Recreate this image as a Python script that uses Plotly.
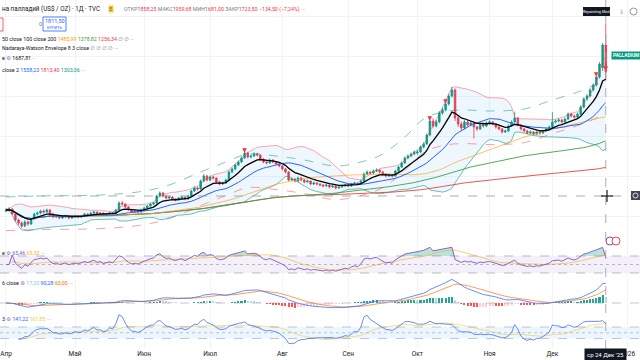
import numpy as np
import pandas as pd
import plotly.graph_objects as go

# ---------------- data ----------------
dates = pd.bdate_range("2025-04-01", "2025-12-24")

opens = [1028,1033,1038,1013,983,968,953,973,963,988,1013,1018,1028,1023,1033,1013,998,1003,993,998,1003,993,
         998,1003,998,1003,1013,1008,1018,1023,1013,1018,1008,1013,1018,1013,1033,1068,1063,1048,1033,1023,1028,1023,
         1033,1043,1053,1063,1068,1103,1118,1103,1093,1098,1088,1083,1093,1098,1088,1103,1128,1143,1138,1178,1203,
         1183,1198,1193,1173,1163,1168,1183,1223,1238,1258,1273,1293,1318,1298,1303,1313,1308,1288,1273,1268,1283,1273,1263,
         1253,1238,1223,1183,1188,1178,1193,1183,1173,1178,1163,1168,1163,1158,1153,1158,1148,1153,1143,1148,1153,
         1158,1153,1163,1168,1163,1178,1213,1223,1218,1228,1233,1223,1213,1203,1208,1203,1228,1248,1268,1293,1303,1313,
         1318,1323,1348,1363,1408,1478,1453,1473,1518,1533,1563,1603,1633,1493,1463,1443,1473,1458,1468,1448,1438,1463,1453,
         1468,1473,1463,1448,1438,1423,1428,1453,1473,1493,1458,1438,1428,1418,1423,1413,1423,1418,1428,1438,
         1448,1473,1478,1483,1473,1488,1513,1503,1498,1513,1548,1588,1603,1633,1658,1698,1745,1858.25]
highs = [1041,1047,1042,1018,990,975,982,980,994,1019,1025,1034,1036,1040,1038,1019,1010,1008,1004,1009,1007,1003,
         1009,1007,1008,1019,1017,1024,1029,1027,1023,1021,1018,1023,1022,1039,1076,1079,1067,1053,1039,1034,1032,1039,
         1049,1058,1068,1074,1109,1126,1123,1108,1105,1102,1093,1098,1104,1101,1109,1134,1151,1149,1186,1214,1209,
         1206,1204,1196,1179,1175,1189,1231,1245,1265,1281,1301,1338,1324,1311,1321,1319,1312,1293,1279,1290,1287,1278,1268,
         1258,1243,1227,1196,1193,1199,1198,1187,1185,1181,1174,1172,1167,1162,1164,1161,1159,1157,1154,1159,1164,
         1162,1169,1174,1172,1185,1221,1231,1227,1236,1241,1237,1227,1217,1214,1212,1234,1255,1276,1301,1311,1321,1331,
         1334,1356,1372,1416,1489,1492,1483,1528,1546,1572,1614,1648,1641,1506,1475,1483,1481,1476,1474,1453,1471,1469,1476,
         1482,1478,1468,1453,1443,1436,1461,1481,1525,1498,1463,1443,1434,1431,1427,1429,1427,1434,1445,1455,
         1522,1486,1491,1488,1494,1521,1519,1510,1520,1557,1597,1612,1642,1667,1706,1772,1868,1959.68]
lows = [1022,1026,1008,976,958,942,948,955,958,984,1006,1012,1015,1018,1007,992,993,987,988,992,986,988,
        993,992,994,999,1002,1004,1013,1008,1009,1003,1004,1009,1008,1010,1030,1057,1042,1028,1018,1019,1017,1019,
        1029,1038,1049,1057,1064,1097,1097,1086,1088,1082,1076,1079,1089,1082,1084,1099,1123,1130,1134,1172,1176,
        1178,1186,1166,1156,1158,1164,1179,1217,1232,1252,1268,1289,1291,1292,1298,1301,1282,1266,1261,1264,1267,1257,1246,
        1231,1216,1176,1177,1171,1174,1177,1166,1169,1157,1158,1157,1152,1147,1149,1141,1144,1136,1139,1144,1149,
        1147,1149,1158,1157,1159,1174,1208,1211,1214,1223,1216,1206,1196,1198,1196,1199,1223,1243,1263,1287,1297,1306,
        1310,1318,1341,1358,1402,1441,1446,1467,1510,1526,1556,1596,1478,1448,1431,1436,1450,1452,1390,1429,1433,1445,1448,
        1462,1456,1440,1431,1415,1418,1424,1448,1468,1451,1431,1421,1411,1413,1406,1408,1410,1413,1423,1433,
        1443,1466,1471,1466,1468,1483,1496,1491,1493,1508,1542,1580,1596,1625,1650,1690,1728,1681.00]
closes = [1033,1038,1013,983,968,953,973,963,988,1013,1018,1028,1023,1033,1013,998,1003,993,998,1003,993,998,
          1003,998,1003,1013,1008,1018,1023,1013,1018,1008,1013,1018,1013,1033,1068,1063,1048,1033,1023,1028,1023,1033,
          1043,1053,1063,1068,1103,1118,1103,1093,1098,1088,1083,1093,1098,1088,1103,1128,1143,1138,1178,1203,1183,
          1198,1193,1173,1163,1168,1183,1223,1238,1258,1273,1293,1318,1298,1303,1313,1308,1288,1273,1268,1283,1273,1263,1253,
          1238,1223,1183,1188,1178,1193,1183,1173,1178,1163,1168,1163,1158,1153,1158,1148,1153,1143,1148,1153,1158,
          1153,1163,1168,1163,1178,1213,1223,1218,1228,1233,1223,1213,1203,1208,1203,1228,1248,1268,1293,1303,1313,1323,
          1323,1348,1363,1408,1478,1453,1473,1518,1533,1563,1603,1633,1493,1463,1443,1473,1458,1468,1448,1438,1463,1453,1468,
          1473,1463,1448,1438,1423,1428,1453,1473,1493,1458,1438,1428,1418,1423,1413,1423,1418,1428,1438,1448,
          1473,1478,1483,1473,1488,1513,1503,1498,1513,1548,1588,1603,1633,1658,1698,1763,1858,1723.50]

# Nadaraya-Watson envelope (dashed)
nw_dates = ["2025-04-01","2025-04-15","2025-05-13","2025-05-29","2025-06-11","2025-06-26","2025-07-08",
            "2025-07-17","2025-07-30","2025-08-12","2025-08-26","2025-09-05","2025-09-16","2025-09-25",
            "2025-10-03","2025-10-13","2025-10-21","2025-11-04","2025-11-18","2025-12-01","2025-12-12","2025-12-24"]
nw_upper = [1098,1103,1108,1123,1153,1223,1273,1313,1303,1283,1253,1273,1313,1398,1488,1523,1533,1528,1538,1583,1628,1683]
nw_lower = [930,935,940,955,985,1055,1105,1145,1135,1115,1085,1105,1145,1230,1320,1355,1365,1360,1370,1415,1460,1515]

signal_dates = ["2025-07-16", "2025-10-07", "2025-10-14", "2025-12-19", "2025-12-24"]

month_labels = ["Апр", "Май", "Июн", "Июл", "Авг", "Сен", "Окт", "Ноя", "Дек", "2026"]
month_starts = ["2025-04-01", "2025-05-01", "2025-06-02", "2025-07-01", "2025-08-01", "2025-09-01",
                "2025-10-01", "2025-11-03", "2025-12-01", "2026-01-02"]

title_text = "на палладий (US$ / OZ) · 1Д · TVC"
ohlc_names = ["ОТКР", "МАКС", "МИН", "ЗАКР"]
ohlc_values = ["1858,25", "1959,68", "1681,00", "1723,50"]
change_text = "−134,50 (−7,24%)"
ma_legend_values = ["1485,99", "1378,82", "1256,34"]
ema_legend_value = "1687,81"
bb_legend_values = ["1558,23", "1813,40", "1303,06"]
rsi_legend_values = ["65,46", "65,30"]
macd_legend_values = ["17,20", "90,28", "63,00"]
cci_legend_values = ["141,22", "161,85"]
buy_price = "1811,50"
crosshair_label = "ср 24 Дек '25"

assert len(opens) == len(highs) == len(lows) == len(closes) == len(dates)

# ---------------- indicators ----------------
n = len(dates)
xi = np.arange(n)
o = pd.Series(opens, dtype=float)
h = pd.Series(highs, dtype=float)
l = pd.Series(lows, dtype=float)
c = pd.Series(closes, dtype=float)

ema9 = c.ewm(span=9, adjust=False).mean()
bb_mid = c.rolling(20, min_periods=1).mean()
bb_sd = c.rolling(20, min_periods=2).std(ddof=0).bfill()
bb_up = bb_mid + 2 * bb_sd
bb_lo = bb_mid - 2 * bb_sd
sma50 = c.rolling(50, min_periods=1).mean()
sma100 = c.rolling(100, min_periods=1).mean()
sma200 = c.rolling(200, min_periods=1).mean()

d = c.diff()
gain = d.clip(lower=0).ewm(alpha=1 / 14, adjust=False).mean()
loss = (-d.clip(upper=0)).ewm(alpha=1 / 14, adjust=False).mean()
rsi = 100 - 100 / (1 + gain / loss.replace(0, np.nan))
rsi = rsi.fillna(50)
rsi_ma = rsi.rolling(14, min_periods=1).mean()

macd = c.ewm(span=12, adjust=False).mean() - c.ewm(span=26, adjust=False).mean()
signal = macd.ewm(span=9, adjust=False).mean()
hist = macd - signal
hist_prev = hist.shift(1).fillna(0)
hist_colors = [("#26A69A" if hv > hp else "#B2DFDB") if hv >= 0 else ("#FF5252" if hv < hp else "#FFCDD2")
               for hv, hp in zip(hist, hist_prev)]

tp = (h + l + c) / 3
tp_ma = tp.rolling(20, min_periods=5).mean()
tp_md = tp.rolling(20, min_periods=5).apply(lambda a: np.mean(np.abs(a - a.mean())), raw=True)
cci = (tp - tp_ma) / (0.015 * tp_md)
cci_ma = cci.rolling(14, min_periods=1).mean()

nw_x = dates.get_indexer(pd.to_datetime(nw_dates))
sig_x = dates.get_indexer(pd.to_datetime(signal_dates))
sig_y = c.iloc[sig_x].values

axis_days = pd.bdate_range("2025-04-01", "2026-01-09")
tick_x = axis_days.get_indexer(pd.to_datetime(month_starts))
last_x = n - 1

# ---------------- styling ----------------
W, H = 640, 360
FONT = "Roboto, 'Noto Sans', 'DejaVu Sans', sans-serif"
TXT = "#131722"
GREY = "#787B86"
UP = "#089981"
DN = "#F23645"
BLUE = "#2962FF"
GRID = "#F0F3FA"


def fx(px):
    return px / W


def fy(py):
    return 1 - py / H


def span(t, col):
    return f"<span style='color:{col}'>{t}</span>"


fig = go.Figure()

# --- main pane ---
fig.add_trace(go.Scatter(x=xi, y=bb_lo, mode="lines", line=dict(color="rgba(8,153,129,0.75)", width=0.8),
                         hoverinfo="skip"))
fig.add_trace(go.Scatter(x=xi, y=bb_up, mode="lines", line=dict(color="rgba(242,54,69,0.55)", width=0.8),
                         fill="tonexty", fillcolor="rgba(33,150,243,0.08)", hoverinfo="skip"))
fig.add_trace(go.Scatter(x=nw_x, y=nw_upper, mode="lines", line=dict(color="rgba(8,153,129,0.65)", width=0.8, dash="dash",
                         shape="spline"), hoverinfo="skip"))
fig.add_trace(go.Scatter(x=nw_x, y=nw_lower, mode="lines", line=dict(color="rgba(242,54,69,0.6)", width=0.8, dash="dash",
                         shape="spline"), hoverinfo="skip"))
fig.add_trace(go.Scatter(x=xi, y=sma200, mode="lines", line=dict(color="rgba(229,57,53,0.85)", width=1), hoverinfo="skip"))
fig.add_trace(go.Scatter(x=xi, y=sma100, mode="lines", line=dict(color="rgba(67,160,71,0.9)", width=1), hoverinfo="skip"))
fig.add_trace(go.Scatter(x=xi, y=sma50, mode="lines", line=dict(color="rgba(255,152,0,0.6)", width=1), hoverinfo="skip"))
fig.add_trace(go.Scatter(x=xi, y=bb_mid, mode="lines", line=dict(color=BLUE, width=1), hoverinfo="skip"))
fig.add_trace(go.Candlestick(x=xi, open=o, high=h, low=l, close=c,
                             increasing=dict(line=dict(color=UP, width=0.8), fillcolor=UP),
                             decreasing=dict(line=dict(color=DN, width=0.8), fillcolor=DN),
                             whiskerwidth=0, hoverinfo="skip"))
fig.add_trace(go.Scatter(x=xi, y=ema9, mode="lines", line=dict(color="#000000", width=1.3), hoverinfo="skip"))
fig.add_trace(go.Scatter(x=sig_x, y=sig_y, mode="text", text=["▼"] * len(sig_x), textposition="top center",
                         textfont=dict(size=6, color=DN, family=FONT), hoverinfo="skip"))

# --- RSI pane ---
fig.add_trace(go.Scatter(x=xi, y=np.full(n, 70.0), mode="lines", line=dict(width=0), xaxis="x2", yaxis="y2",
                         hoverinfo="skip"))
fig.add_trace(go.Scatter(x=xi, y=np.maximum(rsi.values, 70), mode="lines", line=dict(width=0), fill="tonexty",
                         fillcolor="rgba(8,153,129,0.28)", xaxis="x2", yaxis="y2", hoverinfo="skip"))
fig.add_trace(go.Scatter(x=xi, y=np.full(n, 30.0), mode="lines", line=dict(width=0), xaxis="x2", yaxis="y2",
                         hoverinfo="skip"))
fig.add_trace(go.Scatter(x=xi, y=np.minimum(rsi.values, 30), mode="lines", line=dict(width=0), fill="tonexty",
                         fillcolor="rgba(242,54,69,0.25)", xaxis="x2", yaxis="y2", hoverinfo="skip"))
fig.add_trace(go.Scatter(x=xi, y=rsi_ma, mode="lines", line=dict(color="rgba(245,180,40,0.8)", width=0.8),
                         xaxis="x2", yaxis="y2", hoverinfo="skip"))
fig.add_trace(go.Scatter(x=xi, y=rsi, mode="lines", line=dict(color="#7E57C2", width=0.9),
                         xaxis="x2", yaxis="y2", hoverinfo="skip"))

# --- MACD pane ---
fig.add_trace(go.Bar(x=xi, y=hist, marker=dict(color=hist_colors, line=dict(width=0)), width=0.65,
                     xaxis="x3", yaxis="y3", hoverinfo="skip"))
fig.add_trace(go.Scatter(x=xi, y=signal, mode="lines", line=dict(color="rgba(255,109,0,0.75)", width=0.9),
                         xaxis="x3", yaxis="y3", hoverinfo="skip"))
fig.add_trace(go.Scatter(x=xi, y=macd, mode="lines", line=dict(color="rgba(41,98,255,0.8)", width=0.9),
                         xaxis="x3", yaxis="y3", hoverinfo="skip"))

# --- CCI pane ---
fig.add_trace(go.Scatter(x=xi, y=cci_ma, mode="lines", line=dict(color="rgba(245,200,60,0.75)", width=0.8),
                         xaxis="x4", yaxis="y4", hoverinfo="skip"))
fig.add_trace(go.Scatter(x=xi, y=cci, mode="lines", line=dict(color="rgba(41,98,255,0.8)", width=0.9),
                         xaxis="x4", yaxis="y4", hoverinfo="skip"))

# ---------------- axes ----------------
xr = [-1.9, 201.9]
xcommon = dict(range=xr, showgrid=True, gridcolor=GRID, gridwidth=1, tickvals=list(tick_x), zeroline=False,
               showline=False, ticks="", fixedrange=True)
main_top, main_bot = 0, 243
rsi_top, rsi_bot = 244, 277
macd_top, macd_bot = 278, 312
cci_top, cci_bot = 313, 348

macd_hi = max(102.5, float(macd.max()) * 1.05)
macd_lo = -macd_hi * (9.0 / 25.0)

fig.update_layout(
    width=W, height=H, margin=dict(l=0, r=0, t=0, b=0),
    paper_bgcolor="white", plot_bgcolor="white", showlegend=False, bargap=0,
    font=dict(family=FONT, color=TXT),
    xaxis=dict(**xcommon, anchor="y", showticklabels=False, rangeslider=dict(visible=False)),
    xaxis2=dict(**xcommon, anchor="y2", matches="x", showticklabels=False),
    xaxis3=dict(**xcommon, anchor="y3", matches="x", showticklabels=False),
    xaxis4=dict(**xcommon, anchor="y4", matches="x", showticklabels=True, ticktext=month_labels,
                tickfont=dict(size=6.5, color=TXT, family=FONT), automargin=False),
    yaxis=dict(domain=[fy(main_bot), fy(main_top)], range=[868, 2083], showticklabels=False,
               showgrid=True, gridcolor=GRID, tick0=0, dtick=200, zeroline=False, fixedrange=True),
    yaxis2=dict(domain=[fy(rsi_bot), fy(rsi_top)], range=[20.6, 98.2], showticklabels=False,
                showgrid=False, zeroline=False, fixedrange=True),
    yaxis3=dict(domain=[fy(macd_bot), fy(macd_top)], range=[macd_lo, macd_hi], showticklabels=False,
                showgrid=False, zeroline=False, fixedrange=True),
    yaxis4=dict(domain=[fy(cci_bot), fy(cci_top)], range=[-265, 343], showticklabels=False,
                showgrid=False, zeroline=False, fixedrange=True),
)

shapes = []
# RSI band
shapes.append(dict(type="rect", xref="paper", yref="y2", x0=0, x1=1, y0=30, y1=70,
                   fillcolor="rgba(126,87,194,0.09)", line=dict(width=0), layer="below"))
for lv, dash in [(70, "dash"), (50, "dot"), (30, "dash")]:
    shapes.append(dict(type="line", xref="paper", yref="y2", x0=0, x1=1, y0=lv, y1=lv,
                       line=dict(color="rgba(120,123,134,0.7)", width=0.7, dash=dash)))
# MACD zero
shapes.append(dict(type="line", xref="paper", yref="y3", x0=0, x1=1, y0=0, y1=0,
                   line=dict(color="rgba(120,123,134,0.6)", width=0.7, dash="dash")))
# CCI band
shapes.append(dict(type="rect", xref="paper", yref="y4", x0=0, x1=1, y0=-100, y1=100,
                   fillcolor="rgba(33,150,243,0.09)", line=dict(width=0), layer="below"))
for lv, dash in [(100, "dash"), (0, "dot"), (-100, "dash")]:
    shapes.append(dict(type="line", xref="paper", yref="y4", x0=0, x1=1, y0=lv, y1=lv,
                       line=dict(color="rgba(120,123,134,0.6)", width=0.7, dash=dash)))
# crosshair
shapes.append(dict(type="line", xref="x", yref="paper", x0=last_x, x1=last_x, y0=fy(349), y1=1,
                   line=dict(color="#9598A1", width=0.8, dash="dash")))
shapes.append(dict(type="line", xref="paper", yref="paper", x0=0, x1=1, y0=fy(196), y1=fy(196),
                   line=dict(color="#9598A1", width=0.8, dash="dash")))
shapes.append(dict(type="line", xref="paper", yref="paper", x0=fx(601), x1=fx(613), y0=fy(196), y1=fy(196),
                   line=dict(color="#131722", width=1.2)))
shapes.append(dict(type="line", xref="paper", yref="paper", x0=fx(607), x1=fx(607), y0=fy(190), y1=fy(202),
                   line=dict(color="#131722", width=1.2)))
# camera icon
shapes.append(dict(type="rect", xref="paper", yref="paper", x0=fx(631), x1=fx(640), y0=fy(200), y1=fy(191),
                   fillcolor="#434651", line=dict(width=0)))
shapes.append(dict(type="circle", xref="paper", yref="paper", x0=fx(633), x1=fx(638), y0=fy(198), y1=fy(193),
                   fillcolor="rgba(0,0,0,0)", line=dict(color="white", width=0.8)))
# buttons row
shapes.append(dict(type="rect", xref="paper", yref="paper", x0=fx(-10), x1=fx(3), y0=fy(31), y1=fy(18),
                   fillcolor="white", line=dict(color=DN, width=0.8)))
shapes.append(dict(type="rect", xref="paper", yref="paper", x0=fx(43), x1=fx(66), y0=fy(31), y1=fy(17),
                   fillcolor="white", line=dict(color=BLUE, width=0.8)))
# top-right "Repainting" box + icons
shapes.append(dict(type="rect", xref="paper", yref="paper", x0=fx(583), x1=fx(610), y0=fy(16), y1=fy(7),
                   fillcolor="#131722", line=dict(width=0)))
shapes.append(dict(type="circle", xref="paper", yref="paper", x0=fx(630), x1=fx(637), y0=fy(15), y1=fy(8),
                   fillcolor="white", line=dict(color="#787B86", width=0.8)))
# event icons in RSI pane
shapes.append(dict(type="circle", xref="paper", yref="paper", x0=fx(606), x1=fx(614), y0=fy(245), y1=fy(237),
                   fillcolor="white", line=dict(color="#9C27B0", width=0.9)))
shapes.append(dict(type="circle", xref="paper", yref="paper", x0=fx(612), x1=fx(620), y0=fy(245), y1=fy(237),
                   fillcolor="white", line=dict(color="#F23645", width=0.9)))

ann = []


def label(px, py, text, size=5.5, color=TXT, anchor="left", **kw):
    ann.append(dict(x=fx(px), y=fy(py), xref="paper", yref="paper", text=text, showarrow=False,
                    xanchor=anchor, yanchor="middle", font=dict(family=FONT, size=size, color=color), **kw))


GEAR = span("⚙", "#7E57C2")
# title row
label(0, 9, title_text, size=6.3)
label(108, 9, "E", size=4.5, color="#7a5b00", bgcolor="#F7C948", borderpad=0.5)
ohlc_txt = " ".join(span(nm, GREY) + span(v, DN) for nm, v in zip(ohlc_names, ohlc_values))
ohlc_txt += " " + span(change_text, DN) + " " + span("···", GREY)
label(122, 9, ohlc_txt, size=5.3)
# buttons row
label(37, 24, "0", size=5.5, color=GREY)
label(54.5, 21, buy_price, size=5.5, color=BLUE, anchor="center")
label(54.5, 27.5, "КУПИТЬ", size=3.8, color=BLUE, anchor="center")
# indicator legend rows
label(0, 39, "50 close 100 close 200 " + span(ma_legend_values[0], "#FF9800") + " "
      + span(ma_legend_values[1], "#43A047") + " " + span(ma_legend_values[2], DN) + " "
      + span("∅ ∅ ···", GREY), size=5.3)
label(0, 48, "Nadaraya-Watson Envelope 8 3 close " + span("∅ ∅ ∅ ∅ ···", GREY), size=5.3)
label(0, 58, "e " + GEAR + " " + ema_legend_value + " " + span("···", GREY), size=5.3)
label(0, 70, "close 2 " + span(bb_legend_values[0], BLUE) + " " + span(bb_legend_values[1], DN) + " "
      + span(bb_legend_values[2], UP) + " " + span("···", GREY), size=5.3)
label(0, 253, "e " + GEAR + " " + span(rsi_legend_values[0], "#7E57C2") + " "
      + span(rsi_legend_values[1], "#F5B428") + " " + span("···", GREY), size=5.3)
label(0, 283, "6 close " + GEAR + " " + span(macd_legend_values[0], "#80CBC4") + " "
      + span(macd_legend_values[1], BLUE) + " " + span(macd_legend_values[2], "#FF6D00") + " "
      + span("···", GREY), size=5.3)
label(0, 319, "3 " + GEAR + " " + span(cci_legend_values[0], BLUE) + " "
      + span(cci_legend_values[1], "#F5C83C") + " " + span("···", GREY), size=5.3)
# chart labels
label(596.5, 11.5, "Repainting Mod", size=3.8, color="white", anchor="center")
label(621, 11.5, "⇩", size=6, color=GREY, anchor="center")
label(611, 55, "<b>PALLADIUM</b>", size=4.8, color="white", bgcolor=UP, borderpad=1)
ann.append(dict(x=last_x, y=fy(354), xref="x", yref="paper", text=crosshair_label, showarrow=False,
                xanchor="center", yanchor="middle", bgcolor="#131722", borderpad=2,
                font=dict(family=FONT, size=6, color="white")))

fig.update_layout(shapes=shapes, annotations=ann)

fig.write_html("out.html", config={"displayModeBar": False, "staticPlot": True},
               post_script="document.body.style.margin='0';document.body.style.overflow='hidden';")
